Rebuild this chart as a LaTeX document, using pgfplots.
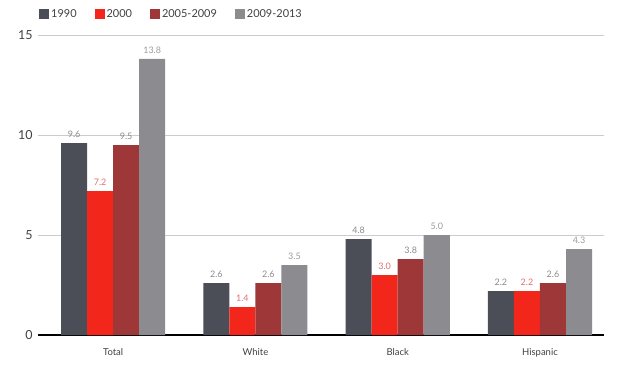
\documentclass[border=0pt]{standalone}
\usepackage{pgfplots}
\pgfplotsset{compat=1.18}
\usepackage{fontspec}
\setmainfont{Lato}
\definecolor{c1}{HTML}{4B4D57}
\definecolor{c2}{HTML}{F2261B}
\definecolor{c3}{HTML}{9E3838}
\definecolor{c4}{HTML}{8C8B90}
\definecolor{lab}{HTML}{8A8A8A}
\definecolor{labred}{HTML}{E07070}
\begin{document}
\begin{tikzpicture}[x=1bp,y=1bp]
\begin{axis}[
  name=ax,
  scale only axis,
  width=566bp, height=300bp,
  ymin=0, ymax=15,
  xmin=-0.528, xmax=3.45,
  ybar=0pt, bar width=0.183,
  xtick={0,1,2,3},
  xticklabels={Total,White,Black,Hispanic},
  ytick={0,5,10,15},
  axis x line*=bottom,
  axis y line*=left,
  y axis line style={draw=none},
  x axis line style={black, line width=1.6pt},
  ymajorgrids,
  grid style={gray!40, line width=0.6pt},
  tick style={draw=none},
  xticklabel style={font=\fontsize{9.5}{11}\selectfont, text=black!75, yshift=-6bp},
  yticklabel style={font=\fontsize{12.5}{14}\selectfont, text=black!75, xshift=-2bp},
  /pgf/number format/assume math mode=true,
  nodes near coords={\pgfmathprintnumber[fixed,fixed zerofill,precision=1]{\pgfplotspointmeta}},
  every node near coord/.append style={font=\fontsize{9}{10}\selectfont, yshift=2bp},
  legend columns=4,
  legend style={at={(0,1)}, anchor=south west, yshift=12bp, xshift=-2bp, draw=none, fill=none,
    font=\fontsize{11}{12}\selectfont, text=black!75,
    /tikz/every even column/.append style={column sep=16bp}},
  legend image code/.code={\fill[#1] (0bp,-5bp) rectangle (10bp,5bp);},
]
\addplot[fill=c1, draw=none, every node near coord/.append style={text=lab}] coordinates {(0,9.6) (1,2.6) (2,4.8) (3,2.2)};
\addplot[fill=c2, draw=none, every node near coord/.append style={text=labred}] coordinates {(0,7.2) (1,1.4) (2,3.0) (3,2.2)};
\addplot[fill=c3, draw=none, every node near coord/.append style={text=lab}] coordinates {(0,9.5) (1,2.6) (2,3.8) (3,2.6)};
\addplot[fill=c4, draw=none, every node near coord/.append style={text=lab!85}] coordinates {(0,13.8) (1,3.5) (2,5.0) (3,4.3)};
\legend{1990,2000,2005-2009,2009-2013}
\end{axis}
\pgfresetboundingbox
\path[use as bounding box] (ax.south west) ++(-38,-33) rectangle ++(630,368);
\end{tikzpicture}
\end{document}
